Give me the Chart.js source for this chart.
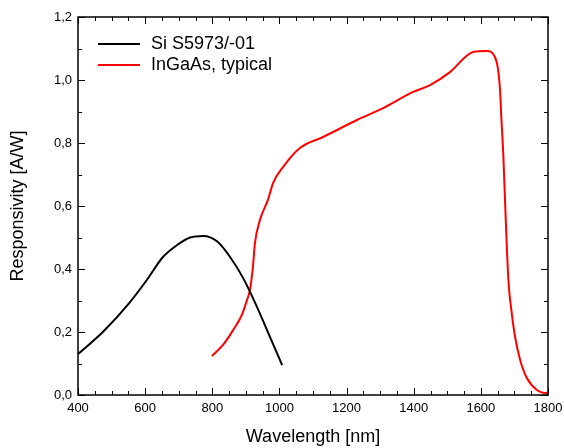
<!DOCTYPE html>
<html>
<head>
<meta charset="utf-8">
<script src="https://cdn.jsdelivr.net/npm/chart.js@4"></script>
<style>
  html, body { margin: 0; padding: 0; background: #fff; }
  #wrap { width: 564px; height: 448px; }
</style>
</head>
<body>
<div id="wrap"><canvas id="chart" width="564" height="448"></canvas></div>
<script>
// データ
const siLabel = 'Si S5973/-01';
const siWavelength = [400, 474, 555, 605, 653, 695, 734, 773, 815, 853, 892, 933, 972, 1008];
const siResponse = [0.13, 0.20, 0.295, 0.365, 0.438, 0.476, 0.50, 0.505, 0.487, 0.438, 0.371, 0.28, 0.184, 0.095];

const ingaasLabel = 'InGaAs, typical';
const ingaasWavelength = [799, 832, 862, 888, 903, 912, 921, 927, 942, 966, 981, 1011, 1061, 1130, 1231, 1309, 1398, 1449, 1508, 1577, 1618, 1642, 1651, 1657, 1662, 1667, 1674, 1682, 1692, 1702, 1717, 1737, 1767, 1797, 1800];
const ingaasResponse = [0.124, 0.159, 0.206, 0.254, 0.30, 0.333, 0.406, 0.482, 0.556, 0.62, 0.673, 0.724, 0.784, 0.819, 0.873, 0.911, 0.962, 0.984, 1.025, 1.089, 1.092, 1.073, 1.035, 0.97, 0.86, 0.76, 0.56, 0.365, 0.26, 0.184, 0.111, 0.054, 0.016, 0.006, 0.01];

const xMin = 400, xMax = 1800, xStep = 50, xLabelStep = 200;
const yMin = 0, yMax = 1.2, yStep = 0.1, yLabelStep = 0.2;

const toPoints = (xs, ys) => xs.map((x, i) => ({ x: x, y: ys[i] }));

// 内向きの目盛り（四辺）
const innerTicks = {
  id: 'innerTicks',
  afterDraw(chart) {
    const { ctx, chartArea: a, scales } = chart;
    ctx.save();
    ctx.strokeStyle = '#000';
    ctx.lineWidth = 1;
    ctx.beginPath();
    scales.x.ticks.forEach(t => {
      const px = Math.round(scales.x.getPixelForValue(t.value)) + 0.5;
      const len = (Math.abs(t.value % xLabelStep) < 1e-6) ? 7 : 4;
      ctx.moveTo(px, a.bottom); ctx.lineTo(px, a.bottom - len);
      ctx.moveTo(px, a.top); ctx.lineTo(px, a.top + len);
    });
    scales.y.ticks.forEach(t => {
      const py = Math.round(scales.y.getPixelForValue(t.value)) + 0.5;
      const major = Math.abs(Math.round(t.value * 10) % 2) === 0;
      const len = major ? 7 : 4;
      ctx.moveTo(a.left, py); ctx.lineTo(a.left + len, py);
      ctx.moveTo(a.right, py); ctx.lineTo(a.right - len, py);
    });
    ctx.stroke();
    ctx.lineWidth = 1.5;
    ctx.strokeRect(a.left, a.top, a.right - a.left, a.bottom - a.top);
    ctx.restore();
  }
};

// 凡例
const innerLegend = {
  id: 'innerLegend',
  afterDraw(chart) {
    const { ctx, chartArea: a } = chart;
    ctx.save();
    ctx.font = '18px "Liberation Sans", Arial, sans-serif';
    ctx.textBaseline = 'middle';
    chart.data.datasets.forEach((ds, i) => {
      const y = a.top + 27 + i * 21;
      ctx.strokeStyle = ds.borderColor;
      ctx.lineWidth = 2;
      ctx.beginPath();
      ctx.moveTo(a.left + 20, y); ctx.lineTo(a.left + 62, y);
      ctx.stroke();
      ctx.fillStyle = '#000';
      ctx.fillText(ds.label, a.left + 73, y);
    });
    ctx.restore();
  }
};

new Chart(document.getElementById('chart'), {
  type: 'line',
  data: {
    datasets: [{
      label: siLabel,
      data: toPoints(siWavelength, siResponse),
      borderColor: '#000000',
      borderWidth: 2,
      pointRadius: 0,
      cubicInterpolationMode: 'monotone'
    }, {
      label: ingaasLabel,
      data: toPoints(ingaasWavelength, ingaasResponse),
      borderColor: '#ff0000',
      borderWidth: 2,
      pointRadius: 0,
      cubicInterpolationMode: 'monotone'
    }]
  },
  options: {
    responsive: false,
    animation: false,
    layout: { padding: { top: 17, right: 16, left: 0, bottom: 0 } },
    plugins: {
      legend: { display: false },
      tooltip: { enabled: false }
    },
    scales: {
      x: {
        type: 'linear',
        min: xMin, max: xMax,
        grid: { display: false, drawTicks: false },
        border: { display: false },
        ticks: {
          stepSize: xStep,
          autoSkip: false,
          maxRotation: 0,
          padding: 6,
          color: '#000',
          font: { family: '"Liberation Sans", Arial, sans-serif', size: 13 },
          callback: v => (Math.abs(v % xLabelStep) < 1e-6) ? String(v) : ''
        },
        title: {
          display: true,
          text: 'Wavelength [nm]',
          color: '#000',
          font: { family: '"Liberation Sans", Arial, sans-serif', size: 18 },
          padding: { top: 7, bottom: 0 }
        },
        afterFit: s => { s.height = 53; s.paddingRight = 0; s.paddingLeft = 0; }
      },
      y: {
        min: yMin, max: yMax,
        grid: { display: false, drawTicks: false },
        border: { display: false },
        ticks: {
          stepSize: yStep,
          autoSkip: false,
          padding: 6,
          color: '#000',
          font: { family: '"Liberation Sans", Arial, sans-serif', size: 13 },
          callback: v => {
            const r = Math.round(v * 10);
            return (r % 2 === 0) ? (r / 10).toFixed(1).replace('.', ',') : '';
          }
        },
        title: {
          display: true,
          text: 'Responsivity [A/W]',
          color: '#000',
          font: { family: '"Liberation Sans", Arial, sans-serif', size: 18 },
          padding: { top: 7, bottom: 4 }
        },
        afterFit: s => { s.width = 78; s.paddingTop = 0; s.paddingBottom = 0; }
      }
    }
  },
  plugins: [innerTicks, innerLegend]
});
</script>
</body>
</html>
